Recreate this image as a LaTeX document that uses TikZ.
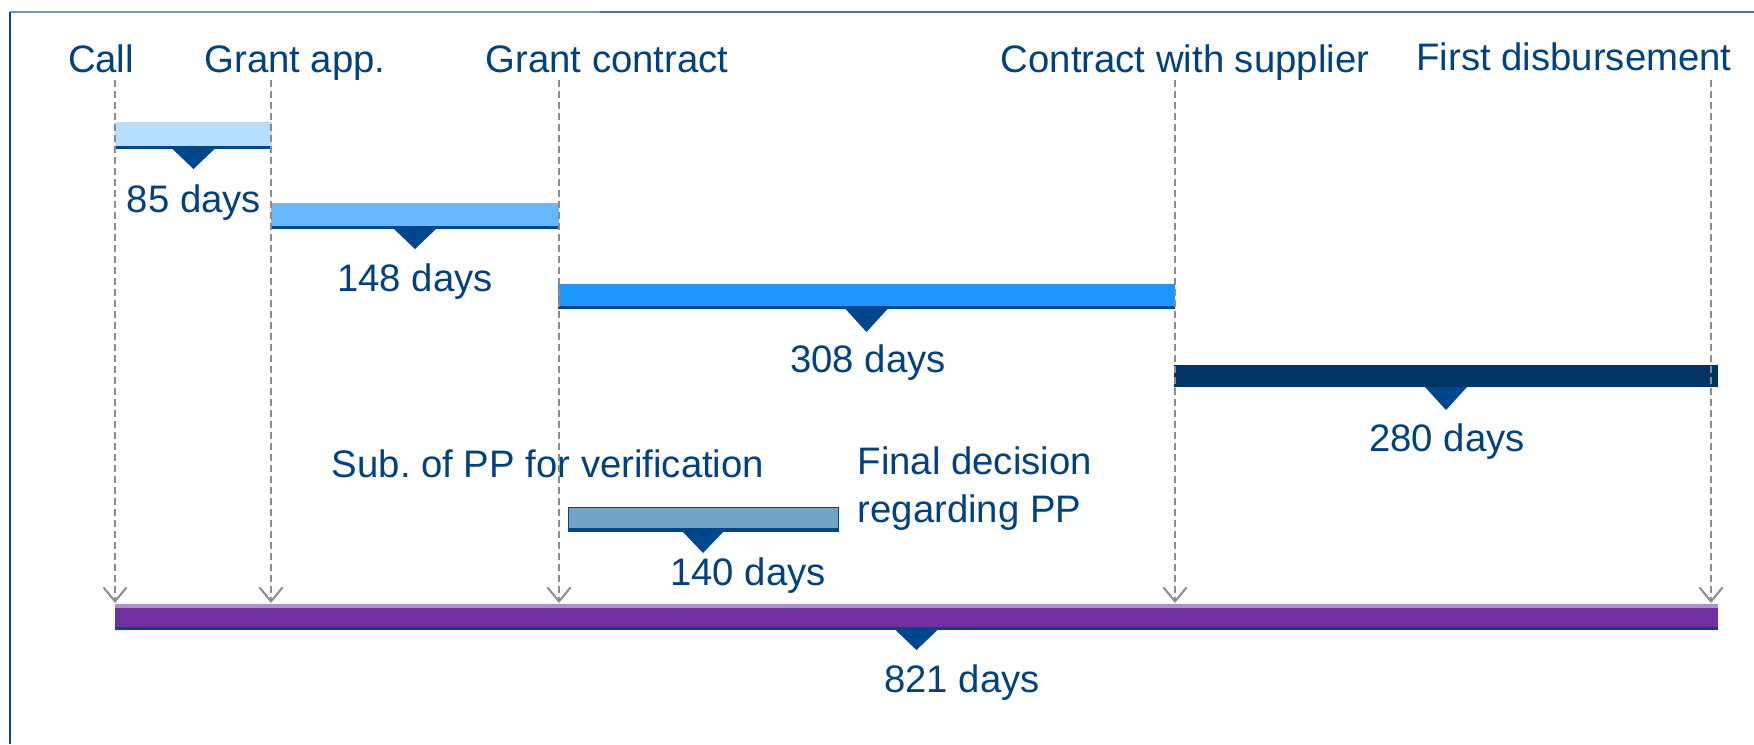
\documentclass[tikz,border=0pt]{standalone}
\usepackage{fontspec}
\setmainfont{Liberation Sans}
\usepackage{tikz}
\usetikzlibrary{positioning}
\usetikzlibrary{arrows.meta}
\tikzset{>={Straight Barb[length=1.4mm,width=2.3mm]}}
\frenchspacing
\definecolor{txtblue}{RGB}{0,66,128}
\definecolor{edgeblue}{RGB}{0,70,140}
\definecolor{frameA}{RGB}{110,152,192}
\definecolor{frameB}{RGB}{70,112,160}
\definecolor{barA}{RGB}{182,222,255}
\definecolor{barB}{RGB}{104,184,255}
\definecolor{barC}{RGB}{30,150,255}
\definecolor{barD}{RGB}{0,52,100}
\definecolor{barE}{RGB}{112,165,198}
\definecolor{barF}{RGB}{112,48,160}
\definecolor{barFtop}{RGB}{176,144,204}
\definecolor{guidegray}{RGB}{140,140,140}

\begin{document}
\begin{tikzpicture}[x=0.1mm, y=-0.1mm, font=\fontsize{10.9pt}{13.6pt}\selectfont, lbl/.style={text=txtblue, inner sep=0pt, anchor=base}, bar/.style={anchor=north west, inner sep=0pt, outer sep=0pt}, baredge/.style={edgeblue, line width=0.3mm}, tri/.style={fill=edgeblue}, guide/.style={guidegray, line width=0.2mm, dash pattern=on 0.7mm off 0.4mm, ->}]

    \useasboundingbox (0,0) rectangle (1754,744);
    \fill[white] (0,0) rectangle (1754,744);

    %Frame
    \draw[frameA, line width=0.2mm] (10,12) -- (600,12);
    \draw[frameB, line width=0.15mm] (600,12) -- (1754,12);
    \draw[edgeblue, line width=0.2mm] (10,12) -- (10,744);

    %Milestones
    \node[lbl](call) at (101,72){Call};
    \node[lbl](grantapp) at (295,73){Grant app.};
    \node[lbl](grantcontract) at (607,73){Grant contract};
    \node[lbl](supplier) at (1185,73){Contract with supplier};
    \node[lbl](disburse) at (1574,70){First disbursement};

    %Bars
    \node[bar, fill=barA, minimum width=15.7mm, minimum height=2.7mm](b85) at (115,122){};
    \node[bar, fill=barB, minimum width=28.8mm, minimum height=2.6mm](b148) at (271,203){};
    \node[bar, fill=barC, minimum width=61.7mm, minimum height=2.5mm](b308) at (558,284){};
    \node[bar, fill=barD, minimum width=54.4mm, minimum height=2.2mm](b280) at (1174,365){};
    \node[bar, fill=barE, draw=edgeblue, line width=0.1mm, minimum width=27mm, minimum height=2.4mm](b140) at (568,507){};
    \node[bar, fill=barF, minimum width=160.3mm, minimum height=2.6mm](b821) at (115,604){};
    \fill[barFtop] (b821.north west) rectangle ([yshift=-0.4mm]b821.north east);

    \draw[baredge] ([yshift=0.15mm]b85.south west) -- ([yshift=0.15mm]b85.south east);
    \draw[baredge] ([yshift=0.15mm]b148.south west) -- ([yshift=0.15mm]b148.south east);
    \draw[baredge] ([yshift=0.15mm]b308.south west) -- ([yshift=0.15mm]b308.south east);
    \draw[baredge] ([yshift=0.15mm]b140.south west) -- ([yshift=0.15mm]b140.south east);
    \draw[baredge] ([yshift=0.15mm]b821.south west) -- ([yshift=0.15mm]b821.south east);

    %Markers
    \fill[tri] ([xshift=-2.1mm]b85.south) -- ([xshift=2.1mm]b85.south) -- ([yshift=-2mm]b85.south) -- cycle;
    \fill[tri] ([xshift=-2.1mm]b148.south) -- ([xshift=2.1mm]b148.south) -- ([yshift=-2mm]b148.south) -- cycle;
    \fill[tri] ([xshift=-2.1mm]b308.south) -- ([xshift=2.1mm]b308.south) -- ([yshift=-2.3mm]b308.south) -- cycle;
    \fill[tri] ([xshift=-2.1mm]b280.south) -- ([xshift=2.1mm]b280.south) -- ([yshift=-2.3mm]b280.south) -- cycle;
    \fill[tri] ([xshift=-2.1mm]b140.south) -- ([xshift=2.1mm]b140.south) -- ([yshift=-2.2mm]b140.south) -- cycle;
    \fill[tri] ([xshift=-2.1mm]b821.south) -- ([xshift=2.1mm]b821.south) -- ([yshift=-2mm]b821.south) -- cycle;

    %Durations
    \node[lbl](d85) at (194,212){85 days};
    \node[lbl](d148) at (415,291){148 days};
    \node[lbl](d308) at (868,372){308 days};
    \node[lbl](d280) at (1447,451){280 days};
    \node[lbl](d140) at (748,585){140 days};
    \node[lbl](d821) at (962,692){821 days};

    \node[lbl](subpp) at (548,477){Sub. of PP for verification};
    \node[lbl, anchor=north west, align=left](decision) at (857,446){Final decision\\regarding PP};

    %Lines
    \coordinate (gcall) at (115,80);
    \coordinate (ggrant) at (271,80);
    \coordinate (gcontract) at (559,80);
    \coordinate (gsupplier) at (1175,80);
    \coordinate (gdisburse) at (1711,80);
    \coordinate (acall) at (115,603);
    \coordinate (agrant) at (271,603);
    \coordinate (acontract) at (559,603);
    \coordinate (asupplier) at (1175,603);
    \coordinate (adisburse) at (1711,603);
    \draw[guide] (gcall) -- (acall);
    \draw[guide] (ggrant) -- (agrant);
    \draw[guide] (gcontract) -- (acontract);
    \draw[guide] (gsupplier) -- (asupplier);
    \draw[guide] (gdisburse) -- (adisburse);

\end{tikzpicture}
\end{document}
